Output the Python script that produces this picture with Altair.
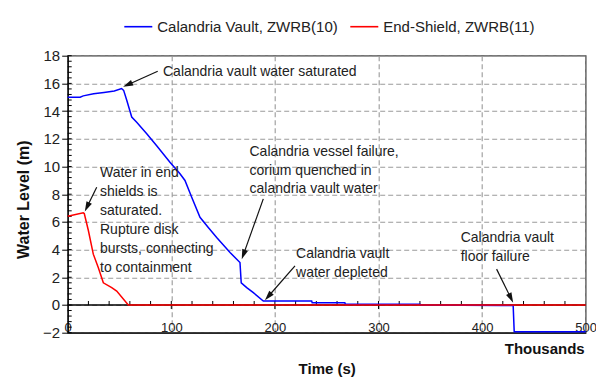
import math
import altair as alt
import pandas as pd

# ---------------- data ----------------
series_names = ["Calandria Vault, ZWRB(10)", "End-Shield, ZWRB(11)"]
series_colors = ["#0000ff", "#ff0000"]

# Calandria vault water level (time in thousands of s, level in m)
blue_x = [0, 12, 15, 25, 35, 45, 52, 54, 57, 61.8, 66.6, 76.3, 85.9, 98.7, 108.4,
          113.2, 119.7, 127.7, 135.7, 143.8, 156.7, 166.3, 167.5, 172.8, 179.2,
          188.8, 235.5, 236, 267.5, 268, 340, 341, 419, 430, 431, 500]
blue_y = [15.0, 15.0, 15.1, 15.25, 15.35, 15.45, 15.63, 15.5, 14.78, 13.57, 13.2,
          12.37, 11.5, 10.3, 9.47, 8.99, 7.78, 6.33, 5.6, 4.88, 3.79, 3.07, 1.6,
          1.25, 0.89, 0.29, 0.29, 0.17, 0.17, 0.05, 0.05, 0.0, -0.03, -0.03,
          -1.93, -1.93]

# End-shield water level
red_x = [0, 15, 16, 20, 24.7, 29.5, 34.4, 42.5, 47.3, 55.3, 58.5, 500]
red_y = [6.4, 6.65, 6.6, 5.36, 3.67, 2.7, 1.6, 1.25, 1.0, 0.29, 0.0, 0.0]

x_ticks = [0, 100, 200, 300, 400, 500]
y_ticks = list(range(-2, 19, 2))
x_minor = [i * 20 for i in range(1, 25) if (i * 20) % 100 != 0]
x_major_inner = [100, 200, 300, 400]
y_minor = [round(-2 + 0.4 * i, 1) for i in range(51)]

# annotations: text lines (left edge, vertical middle) in data coordinates
ann_text = ["Calandria vault water saturated",
            "Water in end", "shields is", "saturated.", "Rupture disk",
            "bursts, connecting", "to containment",
            "Calandria vessel failure,", "corium quenched in",
            "calandria vault water",
            "Calandria vault", "water depleted",
            "Calandria vault", "floor failure"]
ann_x = [92,
         31.2, 31.2, 31.2, 31.2, 31.2, 31.2,
         175.5, 175.5, 175.5,
         220.4, 220.4,
         379.3, 379.3]
ann_y = [16.83,
         9.51, 8.14, 6.81, 5.41, 4.04, 2.70,
         11.04, 9.71, 8.38,
         3.67, 2.34,
         4.83, 3.48]

# arrows: start -> tip
arrow_x0 = [86.9, 28.0, 188.8, 219.4, 414.0]
arrow_y0 = [16.88, 8.5, 7.66, 2.83, 2.59]
arrow_x1 = [53.5, 16.5, 168.0, 190.4, 430.0]
arrow_y1 = [15.75, 6.75, 3.3, 0.34, 0.17]

# ---------------- layout ----------------
W, H = 518, 277
kx, ky = W / 500.0, H / 20.0
FONT = "Liberation Sans"

blue_df = pd.DataFrame({"x": blue_x, "y": blue_y, "series": series_names[0]})
red_df = pd.DataFrame({"x": red_x, "y": red_y, "series": series_names[1]})

xscale = alt.Scale(domain=[0, 500], nice=False, zero=False)
yscale = alt.Scale(domain=[-2, 18], nice=False, zero=False)

xaxis = alt.Axis(values=x_ticks, title="Time (s)", ticks=False, tickSize=0,
                 labelPadding=-1.5, labelBaseline="alphabetic", labelFontSize=13,
                 labelFlush=False, labelOverlap=False, grid=True,
                 titleFontSize=15, titleFontWeight="bold", titleX=W / 2,
                 titleY=36, titleBaseline="middle", titleAlign="center")
yaxis = alt.Axis(values=y_ticks, title="Water Level (m)", tickSize=6,
                 labelPadding=2, labelFontSize=15, grid=True,
                 titleFontSize=16, titleFontWeight="bold", titleX=-44,
                 titleY=143.5, titleBaseline="middle", titleAlign="center")


def X(field="x"):
    return alt.X(f"{field}:Q", scale=xscale, axis=xaxis)


def Y(field="y"):
    return alt.Y(f"{field}:Q", scale=yscale, axis=yaxis)


color = alt.Color(
    "series:N",
    scale=alt.Scale(domain=series_names, range=series_colors),
    legend=alt.Legend(orient="none", legendX=55.6, legendY=-44,
                      direction="horizontal", title=None, symbolType="stroke",
                      symbolSize=784, symbolStrokeWidth=1.6, labelFontSize=15,
                      labelFont=FONT, labelColor="#222", labelOffset=4,
                      columnPadding=8, padding=0, labelLimit=400),
)

# zero line (axis crossing) and its ticks
zero_df = pd.DataFrame({"x": [0], "x2": [500], "y": [0]})
zero_rule = alt.Chart(zero_df).mark_rule(color="black", strokeWidth=1.3).encode(
    x=X(), x2="x2:Q", y=Y())

xminor_df = pd.DataFrame({"x": x_minor, "y": 0.0, "y2": 4 / ky})
xminor = alt.Chart(xminor_df).mark_rule(color="black", strokeWidth=1).encode(
    x=X(), y=Y(), y2="y2:Q")
xmajor_df = pd.DataFrame({"x": x_major_inner, "y": -4 / ky, "y2": 4 / ky})
xmajor = alt.Chart(xmajor_df).mark_rule(color="black", strokeWidth=1).encode(
    x=X(), y=Y(), y2="y2:Q")

yminor_df = pd.DataFrame({"x": 0.0, "x2": 4 / kx, "y": y_minor})
yminor = alt.Chart(yminor_df).mark_rule(color="black", strokeWidth=1).encode(
    x=X(), x2="x2:Q", y=Y())

blue = alt.Chart(blue_df).mark_line(strokeWidth=1.5, interpolate="linear").encode(
    x=X(), y=Y(), color=color)
red = alt.Chart(red_df).mark_line(strokeWidth=1.5, interpolate="linear").encode(
    x=X(), y=Y(), color=color)

# arrows
head_len = 5.0
rows = []
for x0, y0, x1, y1 in zip(arrow_x0, arrow_y0, arrow_x1, arrow_y1):
    dxp = (x1 - x0) * kx
    dyp = -(y1 - y0) * ky
    L = math.hypot(dxp, dyp)
    ux, uy = dxp / L, dyp / L
    ang = math.degrees(math.atan2(dxp, -dyp)) % 360
    cx = x1 - ux * head_len / kx
    cy = y1 + uy * head_len / ky
    rows.append({"x": x0, "y": y0, "x2": cx, "y2": cy, "hx": cx, "hy": cy,
                 "angle": ang})
arrow_df = pd.DataFrame(rows)
shafts = alt.Chart(arrow_df).mark_rule(color="#111", strokeWidth=1.2).encode(
    x=X(), y=Y(), x2="x2:Q", y2="y2:Q")
heads = alt.Chart(arrow_df).mark_point(
    shape="M0,-1L-0.6,1L0.6,1Z", filled=True, size=100, color="#111",
    opacity=1).encode(
    x=alt.X("hx:Q", scale=xscale, axis=xaxis),
    y=alt.Y("hy:Q", scale=yscale, axis=yaxis),
    angle=alt.Angle("angle:Q", scale=None))

ann_df = pd.DataFrame({"x": ann_x, "y": ann_y, "t": ann_text})
texts = alt.Chart(ann_df).mark_text(
    align="left", baseline="middle", fontSize=14, font=FONT, color="#222").encode(
    x=X(), y=Y(), text="t:N")

thou_df = pd.DataFrame({"x": [499], "y": [-3.18], "t": ["Thousands"]})
thousands = alt.Chart(thou_df).mark_text(
    align="right", baseline="middle", fontSize=15, fontWeight="bold", font=FONT,
    color="#111", clip=False).encode(x=X(), y=Y(), text="t:N")

chart = alt.layer(
    zero_rule, xminor, xmajor, yminor, blue, red, shafts, heads, texts, thousands
).properties(
    width=W, height=H,
    autosize=alt.AutoSizeParams(type="none"),
    padding={"left": 59.7, "top": 47.7, "right": 10, "bottom": 45},
).configure_view(
    stroke="#444", strokeWidth=1.3
).configure_axis(
    domainColor="black", domainWidth=1.3, tickColor="black",
    labelColor="#222", titleColor="#111", labelFont=FONT, titleFont=FONT,
    gridColor="#9a9a9a", gridDash=[5, 3], gridWidth=1.1,
).configure_legend(
    labelFont=FONT
)

chart.save("out.html", embed_options={"renderer": "svg", "actions": False})
